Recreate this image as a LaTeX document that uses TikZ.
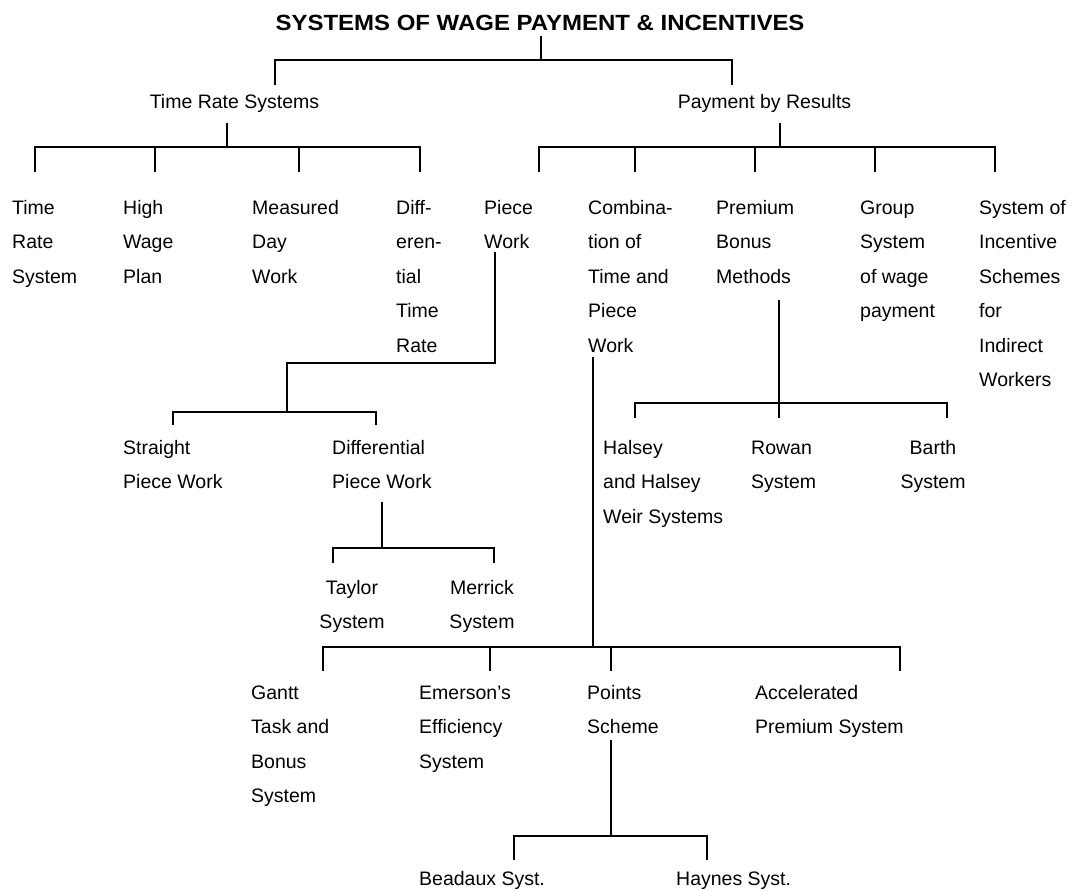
\documentclass[tikz,border=0pt]{standalone}
\usepackage{fontspec}
\setmainfont{Liberation Sans}
\newcommand{\fl}{\rule{0pt}{16pt}}
\begin{document}
\begin{tikzpicture}[x=1pt,y=-1pt,
  conn/.style={line width=1.8pt},
  lbl/.style={anchor=north west, inner sep=0pt, align=left, font=\fontsize{19.5}{34.5}\selectfont},
  lblc/.style={anchor=north, inner sep=0pt, align=center, font=\fontsize{19.5}{34.5}\selectfont},
  one/.style={anchor=base, inner sep=0pt, font=\fontsize{19.5}{23}\selectfont},
  onew/.style={anchor=base west, inner sep=0pt, font=\fontsize{19.5}{23}\selectfont},
  ttl/.style={anchor=base, inner sep=0pt, font=\fontsize{22}{26}\selectfont\bfseries\addfontfeature{FakeStretch=1.09}}]
\useasboundingbox (0,0) rectangle (1072,890);

% ---------- texts ----------
\node[ttl] (title) at (540,30.7) {SYSTEMS OF WAGE PAYMENT \& INCENTIVES};
\node[one] (trs) at (234.5,109) {Time Rate Systems};
\node[one] (pbr) at (764.5,109) {Payment by Results};

\node[lbl] (trsys) at (12,198) {\fl Time\\Rate\\System};
\node[lbl] (hwp) at (123,198) {\fl High\\Wage\\Plan};
\node[lbl] (mdw) at (252,198) {\fl Measured\\Day\\Work};
\node[lbl] (dtr) at (396,198) {\fl Diff-\\eren-\\tial\\Time\\Rate};
\node[lbl] (pw) at (484,198) {\fl Piece\\Work};
\node[lbl] (ctp) at (588,198) {\fl Combina-\\tion of\\Time and\\Piece\\Work};
\node[lbl] (pbm) at (716,198) {\fl Premium\\Bonus\\Methods};
\node[lbl] (gsw) at (860,198) {\fl Group\\System\\of wage\\payment};
\node[lbl] (sis) at (979,198) {\fl System of\\Incentive\\Schemes\\for\\Indirect\\Workers};

\node[lbl] (spw) at (123,438) {\fl Straight\\Piece Work};
\node[lbl] (dpw) at (332,438) {\fl Differential\\Piece Work};
\node[lbl] (hal) at (603,438) {\fl Halsey\\and Halsey\\Weir Systems};
\node[lbl] (row) at (751,438) {\fl Rowan\\System};
\node[lblc] (bar) at (933,438) {\fl Barth\\System};

\node[lblc] (tay) at (352,578) {\fl Taylor\\System};
\node[lblc] (mer) at (482,578) {\fl Merrick\\System};

\node[lbl] (gan) at (251,683) {\fl Gantt\\Task and\\Bonus\\System};
\node[lbl] (eme) at (419,683) {\fl Emerson’s\\Efficiency\\System};
\node[lbl] (pts) at (587,683) {\fl Points\\Scheme};
\node[lbl] (acc) at (755,683) {\fl Accelerated\\Premium System};

\node[onew] (bea) at (419,885) {Beadaux Syst.};
\node[onew] (hay) at (676,885) {Haynes Syst.};

% ---------- junction coordinates ----------
\coordinate (t0) at (541,36);   \coordinate (tj) at (541,60);
\coordinate (trsL) at (275,85); \coordinate (pbrR) at (732,85);

\coordinate (trs0) at (227,123); \coordinate (trsj) at (227,147);
\coordinate (c1) at (35,172); \coordinate (c2) at (155,172);
\coordinate (c3) at (299,172);  \coordinate (c4) at (420,172);

\coordinate (pbr0) at (780,123); \coordinate (pbrj) at (780,147);
\coordinate (c5) at (539,172); \coordinate (c6) at (635,172);
\coordinate (c7) at (755,172); \coordinate (c8) at (875,172);
\coordinate (c9) at (995,172);

\coordinate (pw0) at (495,252); \coordinate (pwk) at (495,363);
\coordinate (pwj) at (287,412);
\coordinate (s1) at (173,425); \coordinate (s2) at (376,425);

\coordinate (dp0) at (382,502); \coordinate (dpj) at (382,548);
\coordinate (s3) at (333,563); \coordinate (s4) at (494,563);

\coordinate (pb0) at (779,300); \coordinate (pbj) at (779,403);
\coordinate (h1) at (635,418); \coordinate (h2) at (779,418);
\coordinate (h3) at (947,418);

\coordinate (ct0) at (593,357); \coordinate (ctj) at (593,647);
\coordinate (g1) at (323,671); \coordinate (g2) at (490,671);
\coordinate (g3) at (611,671); \coordinate (g4) at (900,671);

\coordinate (pt0) at (611,740); \coordinate (ptj) at (611,836);
\coordinate (b1) at (514,860); \coordinate (b2) at (707,860);

% ---------- connectors ----------
\draw[conn] (t0) -- (tj);
\draw[conn] (trsL) -- (trsL |- tj) -- (pbrR |- tj) -- (pbrR);

\draw[conn] (trs0) -- (trsj);
\draw[conn] (c1) -- (c1 |- trsj) -- (c4 |- trsj) -- (c4);
\draw[conn] (c2) -- (c2 |- trsj);
\draw[conn] (c3) -- (c3 |- trsj);

\draw[conn] (pbr0) -- (pbrj);
\draw[conn] (c5) -- (c5 |- pbrj) -- (c9 |- pbrj) -- (c9);
\draw[conn] (c6) -- (c6 |- pbrj);
\draw[conn] (c7) -- (c7 |- pbrj);
\draw[conn] (c8) -- (c8 |- pbrj);

\draw[conn] (pw0) -- (pwk) -- (pwk -| pwj) -- (pwj);
\draw[conn] (s1) -- (s1 |- pwj) -- (s2 |- pwj) -- (s2);

\draw[conn] (dp0) -- (dpj);
\draw[conn] (s3) -- (s3 |- dpj) -- (s4 |- dpj) -- (s4);

\draw[conn] (pb0) -- (h2);
\draw[conn] (h1) -- (h1 |- pbj) -- (h3 |- pbj) -- (h3);

\draw[conn] (ct0) -- (ctj);
\draw[conn] (g1) -- (g1 |- ctj) -- (g4 |- ctj) -- (g4);
\draw[conn] (g2) -- (g2 |- ctj);
\draw[conn] (g3) -- (g3 |- ctj);

\draw[conn] (pt0) -- (ptj);
\draw[conn] (b1) -- (b1 |- ptj) -- (b2 |- ptj) -- (b2);
\end{tikzpicture}
\end{document}
